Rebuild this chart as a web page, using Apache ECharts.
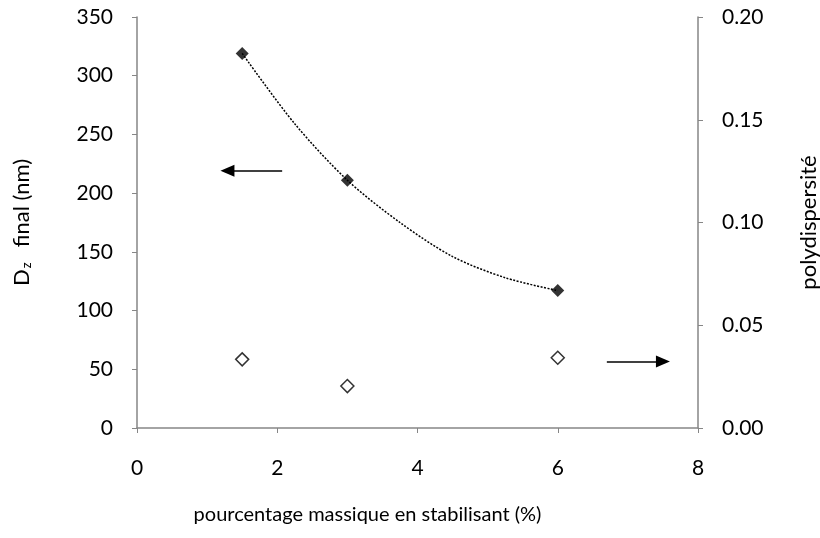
<!DOCTYPE html>
<html>
<head>
<meta charset="utf-8">
<script src="https://cdn.jsdelivr.net/npm/echarts@6/dist/echarts.min.js"></script>
<style>html,body{margin:0;padding:0;background:#fff}#c{width:820px;height:538px}</style>
</head>
<body>
<div id="c"></div>
<script>
// stabiliser mass percentage (%)
var xPct = [1.5, 3, 6];
// final Dz (nm) - left axis
var dzFinal = [319, 211, 117];
// polydispersity - right axis
var polyd = [0.0334, 0.0204, 0.0342];
// dotted trend curve
var trendX = [1.5, 2.25, 3, 3.75, 4.5, 5.25, 6];
var trendY = [319, 259, 211, 175, 146, 128, 117];
// annotation arrows (data coords)
var leftArrow = {from: [2.07, 219], to: [1.29, 219]};
var rightArrow = {from: [6.70, 0.0323], to: [7.50, 0.0323]};

var xTicks = [0, 2, 4, 6, 8];

var FONT = 'Lato';
var axisGrey = '#868686';

var chart = echarts.init(document.getElementById('c'), null, {renderer: 'canvas'});
chart.setOption({
  animation: false,
  backgroundColor: '#fff',
  textStyle: {fontFamily: FONT},
  grid: {left: 137, right: 122, top: 17, bottom: 110, containLabel: false, outerBoundsMode: 'none'},
  xAxis: {
    type: 'value', min: xTicks[0], max: xTicks[xTicks.length - 1], interval: 2,
    axisLine: {show: true, onZero: false, lineStyle: {color: axisGrey, width: 1.5}},
    axisTick: {show: true, inside: false, length: 5, lineStyle: {color: axisGrey}},
    splitLine: {show: false},
    axisLabel: {color: '#000', fontSize: 21, fontFamily: FONT, margin: 30},
    name: 'pourcentage massique en stabilisant (%)',
    nameLocation: 'middle', nameGap: 77,
    nameTextStyle: {color: '#000', fontSize: 20, fontFamily: FONT, padding: [0, 100, 0, 0]}
  },
  yAxis: [{
    type: 'value', min: 0, max: 350, interval: 50,
    axisLine: {show: true, lineStyle: {color: axisGrey, width: 1.5}},
    axisTick: {show: true, inside: false, length: 5, lineStyle: {color: axisGrey}},
    splitLine: {show: false},
    axisLabel: {color: '#000', fontSize: 21, fontFamily: FONT, margin: 24},
    name: 'D{sub|z}  final (nm)',
    nameLocation: 'middle', nameGap: 104,
    nameTextStyle: {
      color: '#000', fontSize: 22, fontFamily: FONT,
      rich: {sub: {fontSize: 13, fontFamily: FONT, color: '#000', verticalAlign: 'bottom', padding: [9, 4, 0, 1]}}
    }
  }, {
    type: 'value', min: 0, max: 0.2, interval: 0.05, position: 'right',
    axisLine: {show: true, lineStyle: {color: axisGrey, width: 1.5}},
    axisTick: {show: true, inside: false, length: 5, lineStyle: {color: axisGrey}},
    splitLine: {show: false},
    axisLabel: {color: '#000', fontSize: 21, fontFamily: FONT, margin: 24,
      formatter: function (v) { return v.toFixed(2); }},
    name: 'polydispersité',
    nameLocation: 'middle', nameGap: 100,
    nameTextStyle: {color: '#000', fontSize: 22, fontFamily: FONT}
  }],
  series: [{
    name: 'trend', type: 'line', yAxisIndex: 0, smooth: 0.3,
    data: trendX.map(function (x, i) { return [x, trendY[i]]; }),
    showSymbol: false, symbol: 'none',
    lineStyle: {color: '#000', width: 1.5, type: [2, 1.5]},
    z: 2,
    markLine: {
      silent: true, symbol: ['none', 'triangle'], symbolSize: [12, 14],
      lineStyle: {color: '#000', width: 1.5, type: 'solid'},
      label: {show: false},
      data: [[{coord: leftArrow.from}, {coord: leftArrow.to}]]
    }
  }, {
    name: 'Dz', type: 'scatter', yAxisIndex: 0,
    data: xPct.map(function (x, i) { return [x, dzFinal[i]]; }),
    symbol: 'diamond', symbolSize: 13,
    itemStyle: {color: '#000'}, z: 3
  }, {
    name: 'PDI', type: 'scatter', yAxisIndex: 1,
    data: xPct.map(function (x, i) { return [x, polyd[i]]; }),
    symbol: 'diamond', symbolSize: 13,
    itemStyle: {color: '#fff', borderColor: '#000', borderWidth: 1.5}, z: 3,
    markLine: {
      silent: true, symbol: ['none', 'triangle'], symbolSize: [12, 14],
      lineStyle: {color: '#000', width: 1.5, type: 'solid'},
      label: {show: false},
      data: [[{coord: rightArrow.from}, {coord: rightArrow.to}]]
    }
  }]
});
</script>
</body>
</html>
